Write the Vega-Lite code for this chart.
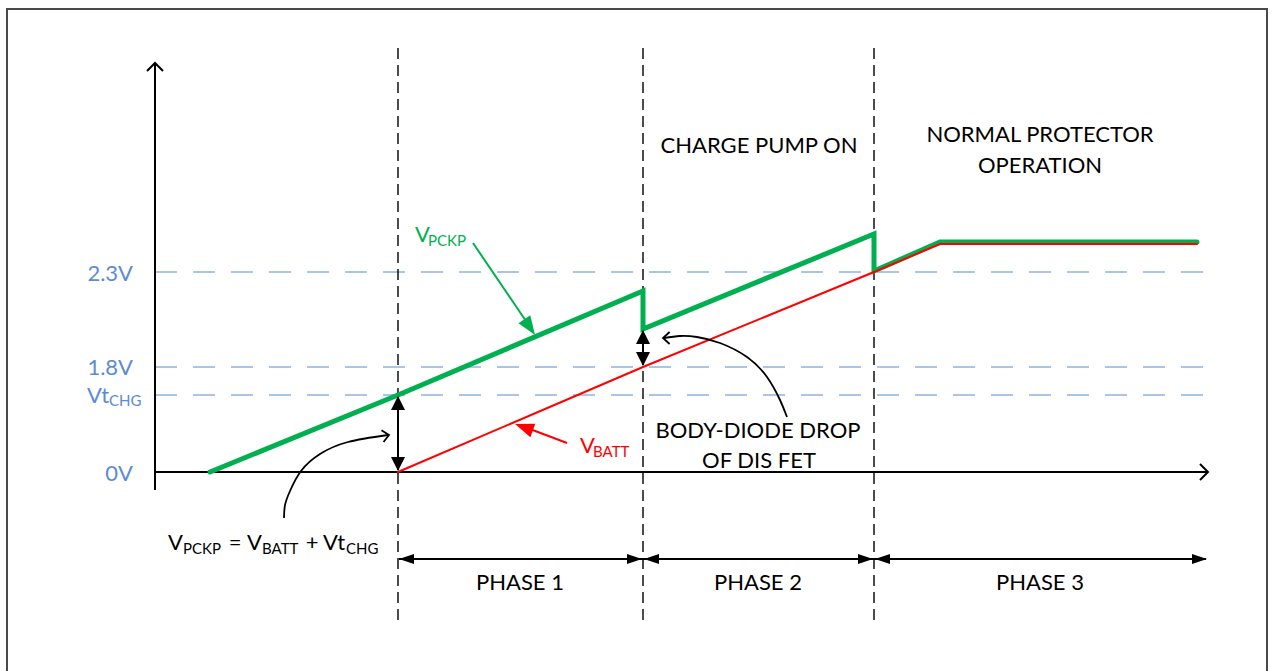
{
  "$schema": "https://vega.github.io/schema/vega-lite/v6.json",
  "width": 1275,
  "height": 671,
  "autosize": {"type": "fit", "contains": "padding"},
  "padding": 0,
  "background": "white",
  "config": {"view": {"stroke": null}, "legend": {"disable": true}, "text": {"font": "Lato"}},
  "datasets": {
    "grid": [
      {"level": "2.3V", "x": 155, "x2": 1212, "y": 272},
      {"level": "1.8V", "x": 155, "x2": 1212, "y": 367},
      {"level": "VtCHG", "x": 155, "x2": 1212, "y": 395}
    ],
    "phases": [
      {"t": 398, "x": 398, "y": 48, "y2": 626},
      {"t": 643, "x": 643, "y": 48, "y2": 626},
      {"t": 874, "x": 874, "y": 48, "y2": 626}
    ],
    "axes": [
      {"p": "y", "i": 0, "x": 155, "y": 490},
      {"p": "y", "i": 1, "x": 155, "y": 64},
      {"p": "x", "i": 0, "x": 155, "y": 472},
      {"p": "x", "i": 1, "x": 1207, "y": 472}
    ],
    "signals": [
      {"k": "VPCKP", "i": 0, "x": 210, "y": 472},
      {"k": "VPCKP", "i": 1, "x": 398, "y": 395},
      {"k": "VPCKP", "i": 2, "x": 643, "y": 291},
      {"k": "VPCKP", "i": 3, "x": 643, "y": 329},
      {"k": "VPCKP", "i": 4, "x": 874, "y": 234},
      {"k": "VPCKP", "i": 5, "x": 874, "y": 271},
      {"k": "VPCKP", "i": 6, "x": 940, "y": 242},
      {"k": "VPCKP", "i": 7, "x": 1197, "y": 242},
      {"k": "VBATT", "i": 0, "x": 398, "y": 472},
      {"k": "VBATT", "i": 1, "x": 643, "y": 367},
      {"k": "VBATT", "i": 2, "x": 874, "y": 272},
      {"k": "VBATT", "i": 3, "x": 940, "y": 244},
      {"k": "VBATT", "i": 4, "x": 1197, "y": 244}
    ],
    "curves": [
      {"p": "c1", "i": 0, "x": 284, "y": 518},
      {"p": "c1", "i": 1, "x": 285, "y": 505},
      {"p": "c1", "i": 2, "x": 290, "y": 491},
      {"p": "c1", "i": 3, "x": 301, "y": 471},
      {"p": "c1", "i": 4, "x": 320, "y": 454},
      {"p": "c1", "i": 5, "x": 348, "y": 442},
      {"p": "c1", "i": 6, "x": 388, "y": 435},
      {"p": "c2", "i": 0, "x": 787, "y": 417},
      {"p": "c2", "i": 1, "x": 780, "y": 400},
      {"p": "c2", "i": 2, "x": 767, "y": 377},
      {"p": "c2", "i": 3, "x": 747, "y": 357},
      {"p": "c2", "i": 4, "x": 720, "y": 343},
      {"p": "c2", "i": 5, "x": 697, "y": 337},
      {"p": "c2", "i": 6, "x": 680, "y": 336},
      {"p": "c2", "i": 7, "x": 664, "y": 338}
    ],
    "arrows": [
      {"k": "guide", "x": 398, "y": 397, "x2": 398, "y2": 470},
      {"k": "guide", "x": 643, "y": 331, "x2": 643, "y2": 365},
      {"k": "guide", "x": 399, "y": 559, "x2": 1206, "y2": 559},
      {"k": "VPCKP", "x": 473, "y": 243, "x2": 530, "y2": 327},
      {"k": "VBATT", "x": 567, "y": 443, "x2": 522, "y2": 426}
    ],
    "heads": [
      {"g": "dbl", "k": "guide", "x": 398, "y": 396, "a": 0},
      {"g": "dbl", "k": "guide", "x": 398, "y": 471, "a": 180},
      {"g": "dbl", "k": "guide", "x": 643, "y": 330, "a": 0},
      {"g": "dbl", "k": "guide", "x": 643, "y": 366, "a": 180},
      {"g": "ph", "k": "guide", "x": 399, "y": 559, "a": 270},
      {"g": "ph", "k": "guide", "x": 642, "y": 559, "a": 90},
      {"g": "ph", "k": "guide", "x": 644, "y": 559, "a": 270},
      {"g": "ph", "k": "guide", "x": 873, "y": 559, "a": 90},
      {"g": "ph", "k": "guide", "x": 875, "y": 559, "a": 270},
      {"g": "ph", "k": "guide", "x": 1207, "y": 559, "a": 90},
      {"g": "lbl", "k": "VPCKP", "x": 535, "y": 335, "a": 146},
      {"g": "lbl", "k": "VBATT", "x": 515, "y": 424, "a": 290}
    ],
    "chevrons": [
      {"g": "axis", "x": 155, "y": 63, "a": 0},
      {"g": "axis", "x": 1208, "y": 472, "a": 90},
      {"g": "curve", "x": 389, "y": 435, "a": 80},
      {"g": "curve", "x": 663, "y": 338, "a": 270}
    ],
    "labelsCenter": [
      {"t": "CHARGE PUMP ON", "k": "guide", "x": 759, "y": 153},
      {"t": "NORMAL PROTECTOR", "k": "guide", "x": 1040, "y": 142},
      {"t": "OPERATION", "k": "guide", "x": 1040, "y": 173},
      {"t": "BODY-DIODE DROP", "k": "guide", "x": 758, "y": 438},
      {"t": "OF DIS FET", "k": "guide", "x": 759, "y": 468},
      {"t": "PHASE 1", "k": "guide", "x": 520, "y": 590},
      {"t": "PHASE 2", "k": "guide", "x": 758, "y": 590},
      {"t": "PHASE 3", "k": "guide", "x": 1040, "y": 590},
      {"t": "=", "k": "guide", "x": 235, "y": 550},
      {"t": "+", "k": "guide", "x": 312, "y": 550}
    ],
    "labelsRight": [
      {"t": "2.3V", "k": "level", "x": 133, "y": 281},
      {"t": "1.8V", "k": "level", "x": 133, "y": 375},
      {"t": "0V", "k": "level", "x": 133, "y": 481}
    ],
    "labelsMain": [
      {"t": "V", "k": "VPCKP", "x": 415, "y": 242},
      {"t": "V", "k": "VBATT", "x": 580, "y": 453},
      {"t": "V", "k": "guide", "x": 168, "y": 550},
      {"t": "V", "k": "guide", "x": 247, "y": 550},
      {"t": "Vt", "k": "guide", "x": 323, "y": 550},
      {"t": "Vt", "k": "level", "x": 87, "y": 403}
    ],
    "labelsSub": [
      {"t": "PCKP", "k": "VPCKP", "x": 428, "y": 246},
      {"t": "BATT", "k": "VBATT", "x": 593, "y": 457},
      {"t": "PCKP", "k": "guide", "x": 183, "y": 554},
      {"t": "BATT", "k": "guide", "x": 262, "y": 554},
      {"t": "CHG", "k": "guide", "x": 346, "y": 554},
      {"t": "CHG", "k": "level", "x": 109, "y": 406}
    ],
    "frame": [{"x": 7, "x2": 1267, "y": 9, "y2": 720}]
  },
  "encoding": {
    "x": {"field": "x", "type": "quantitative", "scale": {"domain": [0, 1275], "nice": false, "zero": false}, "axis": null},
    "y": {"field": "y", "type": "quantitative", "scale": {"domain": [0, 671], "reverse": true, "nice": false, "zero": false}, "axis": null}
  },
  "layer": [
    {
      "data": {"name": "frame"},
      "mark": {"type": "rect", "fill": null, "stroke": "#4a4a4a", "strokeWidth": 2, "clip": true},
      "encoding": {"x2": {"field": "x2"}, "y2": {"field": "y2"}}
    },
    {
      "data": {"name": "grid"},
      "mark": {"type": "rule", "stroke": "#8fb1e3", "strokeWidth": 1.3, "strokeDash": [22, 16]},
      "encoding": {"x2": {"field": "x2"}}
    },
    {
      "data": {"name": "phases"},
      "mark": {"type": "rule", "stroke": "#000000", "strokeWidth": 1.4, "strokeDash": [11, 6]},
      "encoding": {"y2": {"field": "y2"}}
    },
    {
      "data": {"name": "axes"},
      "mark": {"type": "line", "stroke": "#000000", "strokeWidth": 2},
      "encoding": {"detail": {"field": "p"}, "order": {"field": "i"}}
    },
    {
      "data": {"name": "signals"},
      "mark": {"type": "line", "strokeJoin": "miter", "strokeCap": "round"},
      "encoding": {
        "color": {"field": "k", "type": "nominal", "scale": {"domain": ["VPCKP", "VBATT", "guide", "level"], "range": ["#00b050", "#ff0000", "#000000", "#5b8bd5"]}},
        "strokeWidth": {"field": "k", "type": "nominal", "scale": {"domain": ["VBATT", "VPCKP"], "range": [2, 5]}},
        "order": {"field": "i"}
      }
    },
    {
      "data": {"name": "curves"},
      "mark": {"type": "line", "stroke": "#000000", "strokeWidth": 1.8, "interpolate": "natural"},
      "encoding": {"detail": {"field": "p"}, "order": {"field": "i"}}
    },
    {
      "data": {"name": "arrows"},
      "mark": {"type": "rule", "strokeWidth": 2},
      "encoding": {
        "x2": {"field": "x2"}, "y2": {"field": "y2"},
        "color": {"field": "k", "type": "nominal", "scale": {"domain": ["VPCKP", "VBATT", "guide", "level"], "range": ["#00b050", "#ff0000", "#000000", "#5b8bd5"]}}
      }
    },
    {
      "data": {"name": "heads"},
      "transform": [{"filter": "datum.g === 'dbl'"}],
      "mark": {"type": "point", "shape": "M0,0L-1,2L1,2Z", "filled": true, "opacity": 1, "size": 196, "strokeWidth": 0},
      "encoding": {
        "angle": {"field": "a", "type": "quantitative", "scale": null},
        "color": {"field": "k", "type": "nominal", "scale": {"domain": ["VPCKP", "VBATT", "guide", "level"], "range": ["#00b050", "#ff0000", "#000000", "#5b8bd5"]}}
      }
    },
    {
      "data": {"name": "heads"},
      "transform": [{"filter": "datum.g === 'ph'"}],
      "mark": {"type": "point", "shape": "M0,0L-0.67,2L0.67,2Z", "filled": true, "opacity": 1, "size": 225, "strokeWidth": 0},
      "encoding": {
        "angle": {"field": "a", "type": "quantitative", "scale": null},
        "color": {"field": "k", "type": "nominal", "scale": {"domain": ["VPCKP", "VBATT", "guide", "level"], "range": ["#00b050", "#ff0000", "#000000", "#5b8bd5"]}}
      }
    },
    {
      "data": {"name": "heads"},
      "transform": [{"filter": "datum.g === 'lbl'"}],
      "mark": {"type": "point", "shape": "M0,0L-0.75,2L0.75,2Z", "filled": true, "opacity": 1, "size": 361, "strokeWidth": 0},
      "encoding": {
        "angle": {"field": "a", "type": "quantitative", "scale": null},
        "color": {"field": "k", "type": "nominal", "scale": {"domain": ["VPCKP", "VBATT", "guide", "level"], "range": ["#00b050", "#ff0000", "#000000", "#5b8bd5"]}}
      }
    },
    {
      "data": {"name": "chevrons"},
      "transform": [{"filter": "datum.g === 'axis'"}],
      "mark": {"type": "point", "shape": "M-1,1L0,0L1,1", "filled": false, "opacity": 1, "size": 256, "stroke": "#000000", "strokeWidth": 2},
      "encoding": {"angle": {"field": "a", "type": "quantitative", "scale": null}}
    },
    {
      "data": {"name": "chevrons"},
      "transform": [{"filter": "datum.g === 'curve'"}],
      "mark": {"type": "point", "shape": "M-1,1.1L0,0L1,1.1", "filled": false, "opacity": 1, "size": 144, "stroke": "#000000", "strokeWidth": 1.8},
      "encoding": {"angle": {"field": "a", "type": "quantitative", "scale": null}}
    },
    {
      "data": {"name": "labelsCenter"},
      "mark": {"type": "text", "align": "center", "baseline": "alphabetic", "fontSize": 22},
      "encoding": {
        "text": {"field": "t"},
        "color": {"field": "k", "type": "nominal", "scale": {"domain": ["VPCKP", "VBATT", "guide", "level"], "range": ["#00b050", "#ff0000", "#000000", "#5b8bd5"]}}
      }
    },
    {
      "data": {"name": "labelsRight"},
      "mark": {"type": "text", "align": "right", "baseline": "alphabetic", "fontSize": 22},
      "encoding": {
        "text": {"field": "t"},
        "color": {"field": "k", "type": "nominal", "scale": {"domain": ["VPCKP", "VBATT", "guide", "level"], "range": ["#00b050", "#ff0000", "#000000", "#5b8bd5"]}}
      }
    },
    {
      "data": {"name": "labelsMain"},
      "mark": {"type": "text", "align": "left", "baseline": "alphabetic", "fontSize": 22},
      "encoding": {
        "text": {"field": "t"},
        "color": {"field": "k", "type": "nominal", "scale": {"domain": ["VPCKP", "VBATT", "guide", "level"], "range": ["#00b050", "#ff0000", "#000000", "#5b8bd5"]}}
      }
    },
    {
      "data": {"name": "labelsSub"},
      "mark": {"type": "text", "align": "left", "baseline": "alphabetic", "fontSize": 15},
      "encoding": {
        "text": {"field": "t"},
        "color": {"field": "k", "type": "nominal", "scale": {"domain": ["VPCKP", "VBATT", "guide", "level"], "range": ["#00b050", "#ff0000", "#000000", "#5b8bd5"]}}
      }
    }
  ]
}
